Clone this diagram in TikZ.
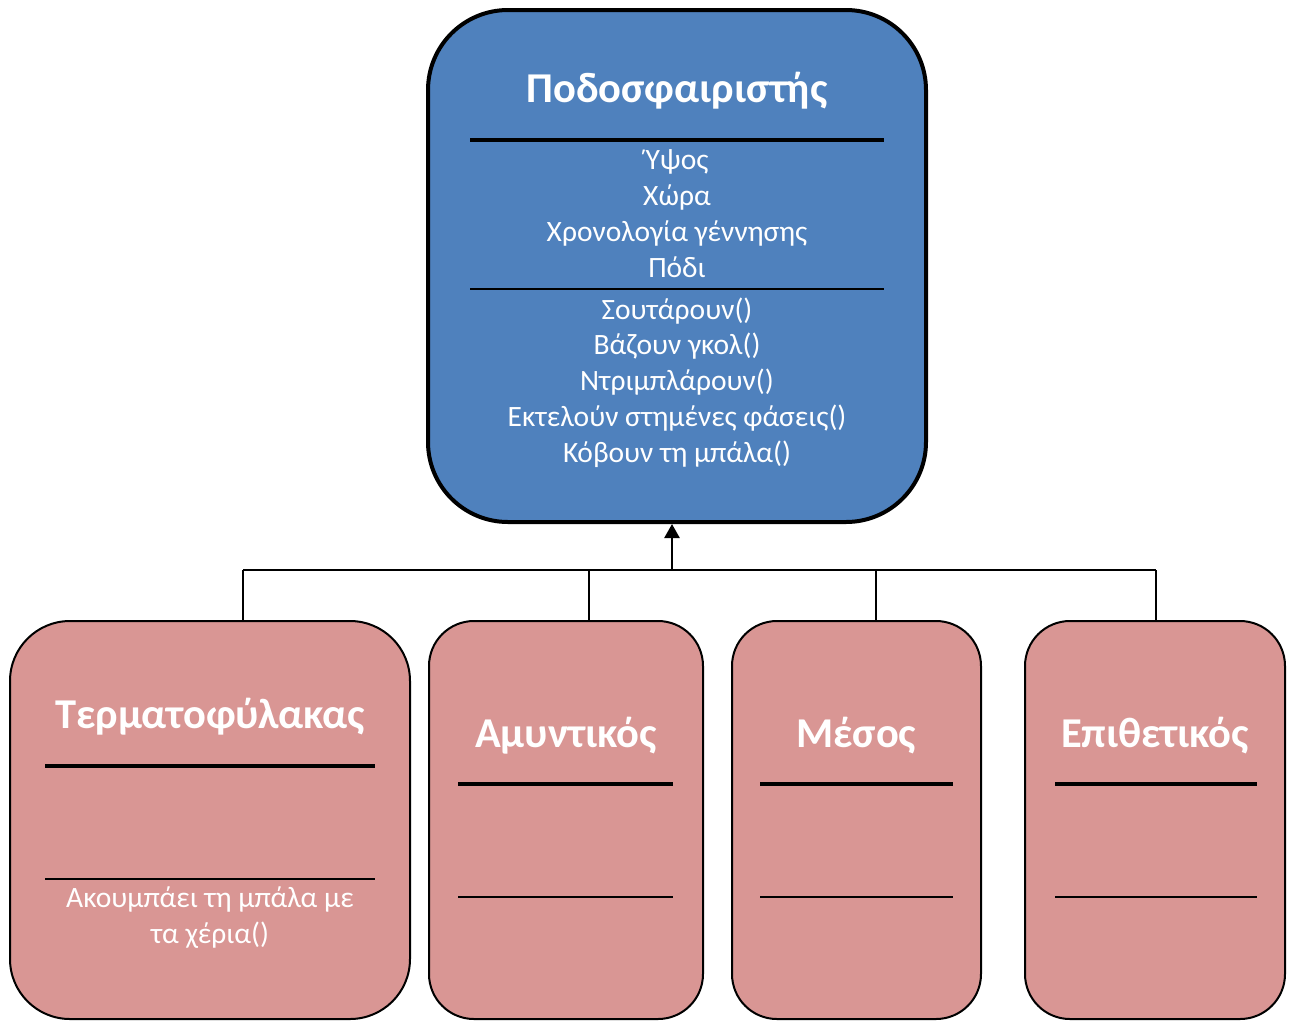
\documentclass[tikz,border=0pt]{standalone}
\usepackage{fontspec}
\setmainfont{Carlito}
\usetikzlibrary{arrows.meta}
\definecolor{topblue}{RGB}{79,129,189}
\definecolor{subpink}{RGB}{217,150,148}
\begin{document}
\begin{tikzpicture}[x=1pt,y=-1pt,
  classbox/.style={draw=black, inner sep=0pt},
  titletext/.style={text=white, font=\fontsize{42.5}{50}\selectfont\bfseries, anchor=base, inner sep=0pt},
  bodytext/.style={text=white, font=\fontsize{29.5}{35.7}\selectfont, anchor=base, align=center, inner sep=0pt},
  thickrule/.style={line width=4pt},
  thinrule/.style={line width=2pt},
  conn/.style={line width=2.5pt}]
\useasboundingbox (0,0) rectangle (1291,1021);

% superclass
\node[classbox, fill=topblue, line width=4pt, rounded corners=80pt,
      minimum width=498pt, minimum height=512pt] (top) at (677,266) {};
\node[titletext] (toptitle) at (677,102) {Ποδοσφαιριστής};
\draw[thickrule] (470,140) -- (884,140);
% base anchor = baseline of the last line
\node[bodytext] (topattr) at (677,277) {Ύψος\\Χώρα\\Χρονολογία γέννησης\\Πόδι};
\draw[thinrule] (470,289) -- (884,289);
\node[bodytext] (topmeth) at (677,462) {Σουτάρουν()\\Βάζουν γκολ()\\Ντριμπλάρουν()\\Εκτελούν στημένες φάσεις()\\Κόβουν τη μπάλα()};

% subclasses
\node[classbox, fill=subpink, line width=2pt, rounded corners=60pt,
      minimum width=400pt, minimum height=398pt] (b1) at (210,820) {};
\node[classbox, fill=subpink, line width=2pt, rounded corners=45pt,
      minimum width=274pt, minimum height=398pt] (b2) at (566,820) {};
\node[classbox, fill=subpink, line width=2pt, rounded corners=45pt,
      minimum width=249pt, minimum height=398pt] (b3) at (856.5,820) {};
\node[classbox, fill=subpink, line width=2pt, rounded corners=45pt,
      minimum width=260pt, minimum height=398pt] (b4) at (1155,820) {};

\node[titletext] (t1) at (210,728) {Τερματοφύλακας};
\draw[thickrule] (45,766) -- (375,766);
\draw[thinrule] (45,879) -- (375,879);
\node[bodytext] (m1) at (210,943) {Ακουμπάει τη μπάλα με\\τα χέρια()};

\node[titletext] (t2) at (566,747) {Αμυντικός};
\draw[thickrule] (458,784) -- (673,784);
\draw[thinrule] (458,897) -- (673,897);

\node[titletext] (t3) at (856.5,747) {Μέσος};
\draw[thickrule] (760,784) -- (953,784);
\draw[thinrule] (760,897) -- (953,897);

\node[titletext] (t4) at (1155,747) {Επιθετικός};
\draw[thickrule] (1055,784) -- (1257,784);
\draw[thinrule] (1055,897) -- (1257,897);

% connectors
\coordinate (hub) at (672,570);
\coordinate (c1) at (243,570);
\coordinate (c2) at (589,570);
\coordinate (c3) at (876,570);
\coordinate (c4) at (1156,570);
\draw[conn] (c1) -- (c4);
\draw[conn] (c1) -- (c1 |- b1.north);
\draw[conn] (c2) -- (c2 |- b2.north);
\draw[conn] (c3) -- (c3 |- b3.north);
\draw[conn] (c4) -- (c4 |- b4.north);
\draw[conn, -{Triangle[width=15pt,length=14pt]}] (hub) -- (hub |- top.south);
\end{tikzpicture}
\end{document}
